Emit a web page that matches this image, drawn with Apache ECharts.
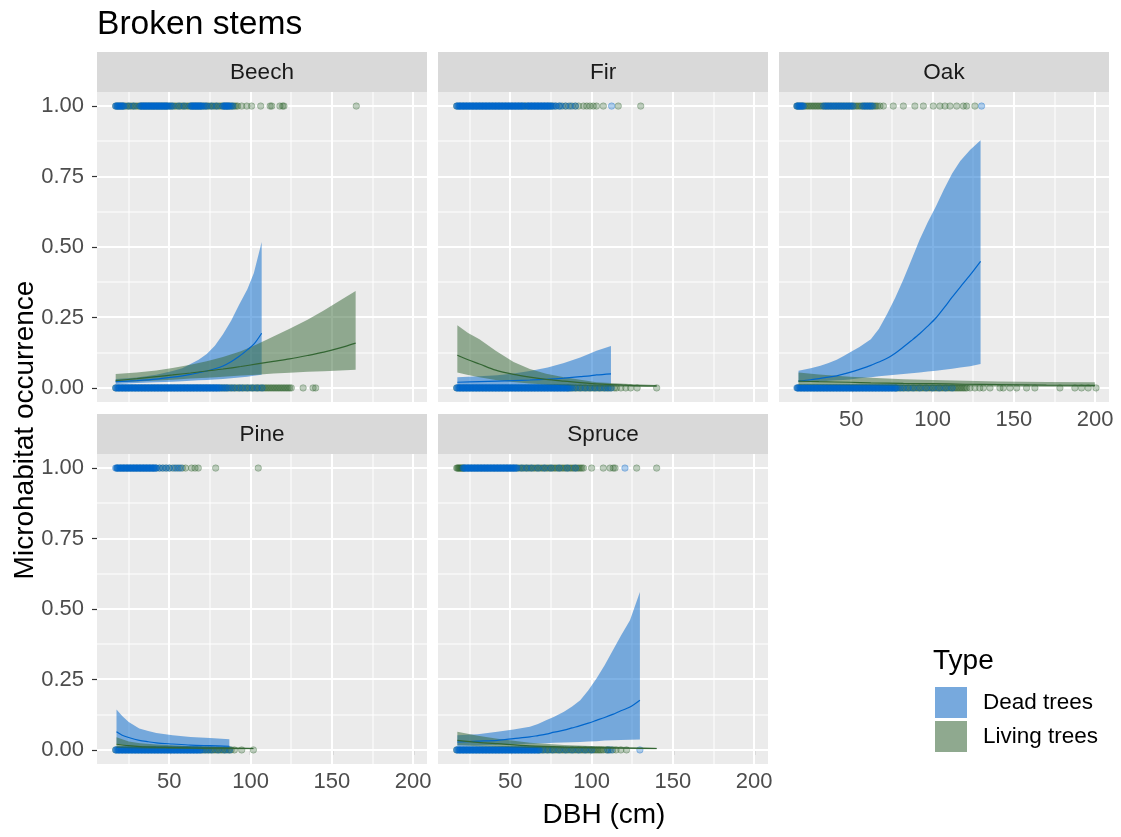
<!DOCTYPE html>
<html><head><meta charset="utf-8">
<script src="https://cdn.jsdelivr.net/npm/echarts@6/dist/echarts.min.js"></script>
<style>html,body{margin:0;padding:0;background:#fff}#c{width:1121px;height:837px}</style>
</head><body><div id="c"></div>
<script>
const FONT = '"Liberation Sans", Arial, sans-serif';
const chartTitle = 'Broken stems';
const xTitle = 'DBH (cm)';
const yTitle = 'Microhabitat occurrence';
const legendTitle = 'Type';
const panelNames = ['Beech', 'Fir', 'Oak', 'Pine', 'Spruce'];
const typeNames = ['Dead trees', 'Living trees'];
const xTicks = [50, 100, 150, 200];
const xMinorTicks = [25, 75, 125, 175];
const yTicks = [0, 0.25, 0.5, 0.75, 1];
const yMinorTicks = [0.125, 0.375, 0.625, 0.875];
const xLimits = [5.5, 208.5];
const yLimits = [-0.05, 1.05];

// ---------- observed points (DBH values), occurrence 1 (Yes) / 0 (No) ----------
const beechDeadYes = [17,17.5,18,18.5,19,19.5,20,20.5,21,21.5,22,25,28,32,32.5,33,33.5,34,34.5,35,35.5,36,36.5,37,37.5,38,38.5,39,39.5,40,40.5,41,41.5,42,42.5,43,43.5,44,44.5,45,45.5,46,46.5,47,47.5,48,48.5,49,50,51,52,56,59,63,63.5,64,64.5,65,65.5,66,66.5,67,67.5,68,68.5,69,69.5,70,71,72,73,76,79,83,83.5,84,84.5,85,85.5,86,86.5,87,88,89];
const beechLiveYes = [17,18,19,20,21,22,23,24,25,26,27,28,29,30,31,32,33,34,35,36,37,38,39,40,41,42,43,44,45,46,47,48,49,50,51,52,53,54,55,56,57,58,59,60,61,62,63,64,65,66,67,68,69,70,71,72,73,74,75,76,77,78,79,80,81,82,83,84,85,86,87,88,89,90,91,92,94.5,97.6,100.6,106.2,112,113,118,119.7,120.5,165];
const beechDeadNo = [17,17.5,18,18.5,19,19.5,20,20.5,21,21.5,22,22.5,23,23.5,24,24.5,25,25.5,26,26.5,27,27.5,28,28.5,29,29.5,30,30.5,31,31.5,32,32.5,33,33.5,34,34.5,35,35.5,36,36.5,37,37.5,38,38.5,39,39.5,40,40.5,41,41.5,42,42.5,43,43.5,44,44.5,45,45.5,46,46.5,47,47.5,48,48.5,49,49.5,50,50.5,51,51.5,52,52.5,53,53.5,54,54.5,55,55.5,56,56.5,57,57.5,58,58.5,59,59.5,60,60.5,61,61.5,62,62.5,63,63.5,64,64.5,65,65.5,66,66.5,67,67.5,68,68.5,69,69.5,70,70.5,71,71.5,72,72.5,73,73.5,74,74.5,75,75.5,76,76.5,77,77.5,78,78.5,79,79.5,80,80.5,81,82,83,84,85,86,88,90,93,95,98,101,104,107];
const beechLiveNo = [17,19,21,23,25,27,29,31,33,35,37,39,41,43,45,47,49,51,53,55,57,59,61,63,65,67,69,71,73,75,77,79,81,82,83,84,85,86,87,88,89,90,91,92,93,94,95,96,97,98,99,100,101,102,103,104,105,106,107,108,109,110,111,112,113,114,115,116,117,118,119,120,121,122,123,124,125,132.3,138.4,140];

const firDeadYes = [17,17.5,18,18.5,19,19.5,20,20.5,21,21.5,22,22.5,23,23.5,24,24.5,25,25.5,26,26.5,27,27.5,28,28.5,29,29.5,30,30.5,31,31.5,32,32.5,33,33.5,34,34.5,35,35.5,36,36.5,37,37.5,38,38.5,39,39.5,40,40.5,41,41.5,42,42.5,43,43.5,44,44.5,45,45.5,46,46.5,47,47.5,48,48.5,49,49.5,50,50.5,51,51.5,52,52.5,53,53.5,54,54.5,55,55.5,56,56.5,57,57.5,58,58.5,60,60.5,61,61.5,62,62.5,63,63.5,64,64.5,65,65.5,66,66.5,67,67.5,68,68.5,69,69.5,70,70.5,71,71.5,72,72.5,73,73.5,74,74.5,75,76,77,78,80,81,84,87,90,112.3];
const firLiveYes = [17,19,21,23,25,27,29,31,33,35,37,39,41,43,45,47,49,51,53,55,57,59,59.2,61,63,65,67,69,71,73,75,76,78,80,82,84,86,88,90,92,95,97,99,101,103,107.2,116.4,130.2];
const firDeadNo = [17,17.5,18,18.5,19,19.5,20,20.5,21,21.5,22,22.5,23,23.5,24,24.5,25,25.5,26,26.5,27,27.5,28,28.5,29,29.5,30,30.5,31,31.5,32,32.5,33,33.5,34,34.5,35,35.5,36,36.5,37,37.5,38,38.5,39,39.5,40,40.5,41,41.5,42,42.5,43,43.5,44,44.5,45,45.5,46,46.5,47,47.5,48,48.5,49,49.5,50,50.5,51,51.5,52,52.5,53,53.5,54,54.5,55,55.5,56,56.5,57,57.5,58,58.5,59,59.5,60,60.5,61,61.5,62,62.5,63,63.5,64,64.5,65,65.5,66,66.5,67,67.5,68,68.5,69,69.5,70,70.5,71,71.5,72,72.5,73,73.5,74,74.5,75,75.5,76,76.5,77,77.5,78,78.5,79,79.5,80,80.5,81,81.5,82,82.5,83,83.5,84,84.5,85,85.5,86,87,88,90,93,96,99,102,105,108,110,112];
const firLiveNo = [17,19,21,23,25,27,29,31,33,35,37,39,41,43,45,47,49,51,53,55,57,59,61,63,65,67,69,71,73,75,77,79,81,83,85,86,87,88,89,90,91,92,93,94,95,96,97,98,99,100,101,102,103,104,105,106,107,108,109,110,111,112,114,115.3,118,121,124,128,140];

const oakDeadYes = [16.5,17,17.5,18,18.5,19,19.5,20,20.5,33,34,35,36,37,38,39,40,41,42,43,44,45,46,47,48,49,50,51,57,58,59,60,61,62,63,130.1];
const oakLiveYes = [16.5,17,18,19,20,21,22,23,24,25,26,27,28,29,30,31,32,33,34,35,36,37,38,39,40,41,42,43,44,45,46,47,48,49,50,51,52,53,54,55,56,57,58,59,60,61,62,63,64,65,66,67.6,69.7,75.8,82,89.1,94.3,100.4,104.5,107.6,110.7,114.8,118.9,120.9,126];
const oakDeadNo = [16.5,17,17.5,18,18.5,19,19.5,20,20.5,21,21.5,22,22.5,23,23.5,24,24.5,25,25.5,26,26.5,27,27.5,28,28.5,29,29.5,30,30.5,31,31.5,32,32.5,33,33.5,34,34.5,35,35.5,36,36.5,37,37.5,38,38.5,39,39.5,40,40.5,41,41.5,42,42.5,43,43.5,44,44.5,45,45.5,46,46.5,47,47.5,48,48.5,49,49.5,50,50.5,51,51.5,52,52.5,53,53.5,54,54.5,55,55.5,56,56.5,57,57.5,58,58.5,59,59.5,60,60.5,61,61.5,62,62.5,63,63.5,64,64.5,65,65.5,66,66.5,67,67.5,68,68.5,69,69.5,70,70.5,71,71.5,72,72.5,73,73.5,74,74.5,75,75.5,76,76.5,77,77.5,78,80,82,85,88,92,96,100,104,108,112];
const oakLiveNo = [17,19,21,23,25,27,29,31,33,35,37,39,41,43,45,47,49,51,53,55,57,59,61,63,65,67,69,71,73,75,77,78,79,80,81,82,83,84,85,86,87,88,89,90,91,92,93,94,95,96,97,98,99,100,101,102,103,104,105,106,107,108,109,110,111,112,113,114,115,116,117,118,119,120,121,123,126,129,131.2,135.3,141.4,143.5,147.6,151.7,157.8,162.9,178.3,187.5,191.6,195.7,200.5];

const pineDeadYes = [17,17.5,18,18.5,19,19.5,20,20.5,21,21.5,22,22.5,23,23.5,24,24.5,25,25.5,26,26.5,27,27.5,28,28.5,29,29.5,30,30.5,31,31.5,32,32.5,33,33.5,34,34.5,35,35.5,36,36.5,37,37.5,38,38.5,39,39.5,40,40.5,41,41.5,42,44,46,48,50,53,55,57];
const pineLiveYes = [18,20,22,24,26,28,30,32,34,36,38,40,42,44,46,48,50,52,54,56,58,60,63.7,65.8,67.8,78.5,104.7];
const pineDeadNo = [17,17.5,18,18.5,19,19.5,20,20.5,21,21.5,22,22.5,23,23.5,24,24.5,25,25.5,26,26.5,27,27.5,28,28.5,29,29.5,30,30.5,31,31.5,32,32.5,33,33.5,34,34.5,35,35.5,36,36.5,37,37.5,38,38.5,39,39.5,40,40.5,41,41.5,42,42.5,43,43.5,44,44.5,45,45.5,46,46.5,47,47.5,48,48.5,49,49.5,50,50.5,51,51.5,52,52.5,53,53.5,54,54.5,55,55.5,56,56.5,57,57.5,58,58.5,59,59.5,60,60.5,61,61.5,62,62.5,63,63.5,64,64.5,65,65.5,66,66.5,67,67.5,68,68.5,69,70,72,74,76,80,84,87];
const pineLiveNo = [17,19,21,23,25,27,29,31,33,35,37,39,41,43,45,47,49,51,53,55,57,59,61,63,65,67,69,70,71,72,73,74,75,76,77,78,79,80,81,82,83,84,85,86,87,88,90,94.5,101.7];

const spruceDeadYes = [21,21.5,22,22.5,23,23.5,24,24.5,25,25.5,26,26.5,27,27.5,28,28.5,29,29.5,30,30.5,31,31.5,32,32.5,33,33.5,34,34.5,35,35.5,36,36.5,37,37.5,38,38.5,39,39.5,40,40.5,41,41.5,42,42.5,43,43.5,44,44.5,45,45.5,46,46.5,47,47.5,48,48.5,49,49.5,50,50.5,51,51.5,52,52.5,53,53.5,54,57,60,63,67,71,75,80,85,90,120.5];
const spruceLiveYes = [17,17.5,18,18.5,19,19.5,20,20.5,21,22,24,26,28,30,32,34,36,38,40,42,44,46,48,50,52,54,55,56,57,58,59,60,61,62,63,64,65,66,67,68,69,70,71,72,73,74,75,76,77,78,79,80,81,82,83,84,85,86,87,88,89,90,91,92,93,94,95,100,107.2,111.3,113.3,114.4,127.7,140];
const spruceDeadNo = [17,17.5,18,18.5,19,19.5,20,20.5,21,21.5,22,22.5,23,23.5,24,24.5,25,25.5,26,26.5,27,27.5,28,28.5,29,29.5,30,30.5,31,31.5,32,32.5,33,33.5,34,34.5,35,35.5,36,36.5,37,37.5,38,38.5,39,39.5,40,40.5,41,41.5,42,42.5,43,43.5,44,44.5,45,45.5,46,46.5,47,47.5,48,48.5,49,49.5,50,50.5,51,51.5,52,52.5,53,53.5,54,54.5,55,55.5,56,56.5,57,57.5,58,58.5,59,59.5,60,60.5,61,61.5,62,62.5,63,63.5,64,64.5,65,65.5,66,66.5,67,67.5,68,70,73,76,80,84,88,92,96,100,110,112,129.7];
const spruceLiveNo = [17,19,21,23,25,27,29,31,33,35,37,39,41,43,45,47,49,51,53,55,57,59,61,63,65,67,68,69,70,71,72,73,74,75,76,77,78,79,80,81,82,83,84,85,86,87,88,89,90,91,92,93,94,95,96,97,98,99,100,101,102,103,104,105,106,107.2,109,110,111,113,115,118,121.5];

// ---------- fitted curves with confidence bands ----------
const beechDeadDbh  = [17, 30, 42, 52, 58, 63, 68, 73, 78, 83, 88, 93, 98, 102, 106.8];
const beechDeadFit  = [0.022, 0.026, 0.031, 0.038, 0.043, 0.048, 0.054, 0.06, 0.068, 0.078, 0.093, 0.112, 0.135, 0.155, 0.194];
const beechDeadLow  = [0.014, 0.017, 0.02, 0.022, 0.024, 0.025, 0.027, 0.028, 0.03, 0.032, 0.034, 0.037, 0.04, 0.043, 0.047];
const beechDeadHigh = [0.032, 0.037, 0.047, 0.06, 0.07, 0.085, 0.1, 0.12, 0.15, 0.19, 0.238, 0.296, 0.35, 0.408, 0.518];
const beechLiveDbh  = [17, 30, 42, 52, 63, 73, 83, 94, 104, 114, 124, 135, 145, 155, 164.6];
const beechLiveFit  = [0.026, 0.033, 0.04, 0.046, 0.053, 0.06, 0.067, 0.076, 0.085, 0.094, 0.103, 0.115, 0.127, 0.142, 0.159];
const beechLiveLow  = [0.02, 0.023, 0.026, 0.029, 0.033, 0.036, 0.04, 0.044, 0.047, 0.051, 0.054, 0.057, 0.059, 0.062, 0.064];
const beechLiveHigh = [0.049, 0.055, 0.062, 0.071, 0.082, 0.095, 0.11, 0.13, 0.155, 0.182, 0.21, 0.242, 0.275, 0.31, 0.344];

const firDeadDbh  = [17.4, 31, 42, 52, 62, 73, 83, 93, 99, 103, 111.9];
const firDeadFit  = [0.02, 0.022, 0.024, 0.026, 0.028, 0.031, 0.035, 0.04, 0.043, 0.046, 0.05];
const firDeadLow  = [0.008, 0.008, 0.009, 0.009, 0.01, 0.01, 0.011, 0.011, 0.012, 0.012, 0.013];
const firDeadHigh = [0.038, 0.041, 0.045, 0.051, 0.06, 0.072, 0.088, 0.108, 0.122, 0.132, 0.149];
const firLiveDbh  = [17.4, 24, 31, 41, 52, 62, 72, 83, 103, 123, 140];
const firLiveFit  = [0.116, 0.1, 0.085, 0.063, 0.048, 0.038, 0.03, 0.024, 0.014, 0.009, 0.007];
const firLiveLow  = [0.055, 0.046, 0.038, 0.028, 0.021, 0.016, 0.012, 0.009, 0.005, 0.004, 0.003];
const firLiveHigh = [0.222, 0.195, 0.173, 0.132, 0.092, 0.067, 0.05, 0.038, 0.02, 0.014, 0.01];

const oakDeadDbh  = [17.5, 25, 31, 36, 41, 45, 49, 55, 62, 67, 72, 77, 82, 87, 92, 97, 102, 107, 112, 117, 123, 129.5];
const oakDeadFit  = [0.024, 0.029, 0.034, 0.038, 0.043, 0.049, 0.055, 0.066, 0.08, 0.092, 0.105, 0.123, 0.145, 0.168, 0.192, 0.219, 0.248, 0.284, 0.322, 0.358, 0.4, 0.449];
const oakDeadLow  = [0.02, 0.021, 0.023, 0.025, 0.027, 0.028, 0.03, 0.034, 0.038, 0.041, 0.044, 0.047, 0.049, 0.052, 0.055, 0.058, 0.061, 0.064, 0.068, 0.072, 0.077, 0.085];
const oakDeadHigh = [0.061, 0.07, 0.079, 0.088, 0.1, 0.112, 0.126, 0.145, 0.173, 0.21, 0.262, 0.32, 0.385, 0.455, 0.526, 0.588, 0.644, 0.705, 0.761, 0.805, 0.844, 0.879];
const oakLiveDbh  = [17.5, 30, 49, 62, 82, 100, 120, 140, 170, 199.8];
const oakLiveFit  = [0.024, 0.022, 0.02, 0.018, 0.016, 0.015, 0.013, 0.012, 0.01, 0.009];
const oakLiveLow  = [0.01, 0.01, 0.009, 0.009, 0.008, 0.007, 0.006, 0.005, 0.004, 0.003];
const oakLiveHigh = [0.055, 0.048, 0.04, 0.036, 0.031, 0.028, 0.025, 0.023, 0.021, 0.02];

const pineDeadDbh  = [17.5, 21, 25, 31.5, 37, 42, 52, 63, 75, 86.9];
const pineDeadFit  = [0.064, 0.052, 0.044, 0.034, 0.029, 0.025, 0.021, 0.017, 0.015, 0.013];
const pineDeadLow  = [0.022, 0.018, 0.015, 0.012, 0.01, 0.009, 0.007, 0.006, 0.005, 0.004];
const pineDeadHigh = [0.143, 0.12, 0.099, 0.076, 0.067, 0.06, 0.052, 0.046, 0.042, 0.038];
const pineLiveDbh  = [17.5, 25, 32, 42, 63, 80, 101.7];
const pineLiveFit  = [0.02, 0.015, 0.012, 0.01, 0.007, 0.006, 0.005];
const pineLiveLow  = [0.008, 0.006, 0.005, 0.004, 0.003, 0.002, 0.002];
const pineLiveHigh = [0.045, 0.03, 0.024, 0.019, 0.013, 0.01, 0.008];

const spruceDeadDbh  = [17.4, 30, 42, 52, 62, 67, 72, 77, 83, 88, 93, 98, 103, 108, 113, 118, 123.6, 129.7];
const spruceDeadFit  = [0.028, 0.031, 0.034, 0.04, 0.046, 0.051, 0.056, 0.063, 0.07, 0.078, 0.086, 0.095, 0.105, 0.115, 0.126, 0.139, 0.152, 0.176];
const spruceDeadLow  = [0.014, 0.016, 0.018, 0.02, 0.022, 0.023, 0.024, 0.025, 0.026, 0.027, 0.028, 0.03, 0.031, 0.033, 0.034, 0.035, 0.036, 0.037];
const spruceDeadHigh = [0.052, 0.056, 0.064, 0.072, 0.082, 0.092, 0.105, 0.118, 0.135, 0.154, 0.176, 0.212, 0.253, 0.3, 0.353, 0.405, 0.46, 0.56];
const spruceLiveDbh  = [17.4, 30, 42, 62, 83, 103, 123, 140];
const spruceLiveFit  = [0.034, 0.027, 0.022, 0.014, 0.01, 0.008, 0.006, 0.005];
const spruceLiveLow  = [0.017, 0.013, 0.011, 0.007, 0.005, 0.004, 0.003, 0.002];
const spruceLiveHigh = [0.064, 0.05, 0.04, 0.025, 0.017, 0.013, 0.01, 0.008];

// ---------- assemble ----------
const panelData = [
  {dead:{yes:beechDeadYes,no:beechDeadNo,dbh:beechDeadDbh,fit:beechDeadFit,lo:beechDeadLow,hi:beechDeadHigh},
   live:{yes:beechLiveYes,no:beechLiveNo,dbh:beechLiveDbh,fit:beechLiveFit,lo:beechLiveLow,hi:beechLiveHigh}},
  {dead:{yes:firDeadYes,no:firDeadNo,dbh:firDeadDbh,fit:firDeadFit,lo:firDeadLow,hi:firDeadHigh},
   live:{yes:firLiveYes,no:firLiveNo,dbh:firLiveDbh,fit:firLiveFit,lo:firLiveLow,hi:firLiveHigh}},
  {dead:{yes:oakDeadYes,no:oakDeadNo,dbh:oakDeadDbh,fit:oakDeadFit,lo:oakDeadLow,hi:oakDeadHigh},
   live:{yes:oakLiveYes,no:oakLiveNo,dbh:oakLiveDbh,fit:oakLiveFit,lo:oakLiveLow,hi:oakLiveHigh}},
  {dead:{yes:pineDeadYes,no:pineDeadNo,dbh:pineDeadDbh,fit:pineDeadFit,lo:pineDeadLow,hi:pineDeadHigh},
   live:{yes:pineLiveYes,no:pineLiveNo,dbh:pineLiveDbh,fit:pineLiveFit,lo:pineLiveLow,hi:pineLiveHigh}},
  {dead:{yes:spruceDeadYes,no:spruceDeadNo,dbh:spruceDeadDbh,fit:spruceDeadFit,lo:spruceDeadLow,hi:spruceDeadHigh},
   live:{yes:spruceLiveYes,no:spruceLiveNo,dbh:spruceLiveDbh,fit:spruceLiveFit,lo:spruceLiveLow,hi:spruceLiveHigh}}
];

const COL = {
  dead: {line:'#0066CC', band:'rgba(0,102,204,0.5)', pt:'rgba(0,102,204,0.3)', key:'#77A9DD'},
  live: {line:'#336633', band:'rgba(51,102,51,0.5)', pt:'rgba(51,102,51,0.3)', key:'#8FA98F'}
};

// layout (pixels)
const PW = 330, PH = 310, STRIP = 40;
const boxes = [[97,92],[438,92],[779,92],[97,454],[438,454]];
const showX = [false,false,true,true,true];
const showY = [true,false,false,true,false];

const grids = [], xAxes = [], yAxes = [], series = [], graphics = [];

function gridLineSeries(i){
  const data = [];
  xTicks.forEach(v=>data.push([v,0.5,1,1]));
  xMinorTicks.forEach(v=>data.push([v,0.5,1,0]));
  yTicks.forEach(v=>data.push([100,v,0,1]));
  yMinorTicks.forEach(v=>data.push([100,v,0,0]));
  return {
    type:'custom', xAxisIndex:i, yAxisIndex:i, z:1, silent:true, data, encode:{x:0,y:1},
    renderItem(params, api){
      const cs = params.coordSys;
      const vert = api.value(2) === 1, major = api.value(3) === 1;
      let shape;
      if (vert){ const px = Math.round(api.coord([api.value(0), 0.5])[0]); shape = {x1:px, y1:cs.y, x2:px, y2:cs.y+cs.height}; }
      else { const py = Math.round(api.coord([100, api.value(1)])[1]); shape = {x1:cs.x, y1:py, x2:cs.x+cs.width, y2:py}; }
      return {type:'line', shape, style:{stroke:'#FFFFFF', lineWidth: major ? 2 : 1}};
    }
  };
}
function bandSeries(i, name, d, color){
  const data = d.dbh.map((x,k)=>[x, d.lo[k], d.hi[k]]);
  return {
    type:'custom', name, xAxisIndex:i, yAxisIndex:i, z:3, silent:true, data, encode:{x:0, y:[1,2]},
    renderItem(params, api){
      if (params.dataIndex !== 0) return null;
      const pts = [];
      for (let k=0;k<data.length;k++) pts.push(api.coord([data[k][0], data[k][2]]));
      for (let k=data.length-1;k>=0;k--) pts.push(api.coord([data[k][0], data[k][1]]));
      return {type:'polygon', shape:{points:pts}, style:{fill:color}};
    }
  };
}
function pointSeries(i, name, d, color){
  const data = d.yes.map(x=>[x,1]).concat(d.no.map(x=>[x,0]));
  return {type:'scatter', name, xAxisIndex:i, yAxisIndex:i, z:2, silent:true, symbolSize:6.5,
    itemStyle:{color, borderColor:color, borderWidth:1, opacity:1}, data};
}
function lineSeries(i, name, d, color){
  return {type:'line', name, xAxisIndex:i, yAxisIndex:i, z:4, silent:true, showSymbol:false, smooth:0.3,
    lineStyle:{color, width:1.2}, itemStyle:{color}, data:d.dbh.map((x,k)=>[x, d.fit[k]])};
}

panelNames.forEach((p,i)=>{
  const [L,T] = boxes[i];
  grids.push({left:L, top:T, width:PW, height:PH, show:true, backgroundColor:'#EBEBEB', borderWidth:0});
  xAxes.push({gridIndex:i, type:'value', min:xLimits[0], max:xLimits[1],
    axisLine:{show:false}, splitLine:{show:false},
    axisTick:{show:showX[i], customValues:xTicks, length:5, lineStyle:{color:'#333333', width:1.2}},
    axisLabel:{show:showX[i], customValues:xTicks, margin:7, fontSize:22, color:'#4D4D4D', fontFamily:FONT}});
  yAxes.push({gridIndex:i, type:'value', min:yLimits[0], max:yLimits[1],
    axisLine:{show:false}, splitLine:{show:false},
    axisTick:{show:showY[i], customValues:yTicks, length:5, lineStyle:{color:'#333333', width:1.2}},
    axisLabel:{show:showY[i], customValues:yTicks, margin:13, fontSize:22, color:'#4D4D4D', fontFamily:FONT,
      formatter:v=>Number(v).toFixed(2)}});
  const pd = panelData[i];
  series.push(gridLineSeries(i));
  series.push(pointSeries(i, typeNames[1], pd.live, COL.live.pt));
  series.push(pointSeries(i, typeNames[0], pd.dead, COL.dead.pt));
  series.push(bandSeries(i, typeNames[0], pd.dead, COL.dead.band));
  series.push(bandSeries(i, typeNames[1], pd.live, COL.live.band));
  series.push(lineSeries(i, typeNames[0], pd.dead, COL.dead.line));
  series.push(lineSeries(i, typeNames[1], pd.live, COL.live.line));
  graphics.push({type:'rect', shape:{x:L, y:T-STRIP, width:PW, height:STRIP}, style:{fill:'#D9D9D9'}, silent:true});
  graphics.push({type:'text', x:L+PW/2, y:T-STRIP/2+1, silent:true,
    style:{text:p, fontSize:22.5, fontFamily:FONT, fill:'#1A1A1A', align:'center', verticalAlign:'middle', textAlign:'center', textVerticalAlign:'middle'}});
});

graphics.push({type:'text', x:97, y:25, silent:true,
  style:{text:chartTitle, fontSize:33.6, fontFamily:FONT, fill:'#000', align:'left', verticalAlign:'middle', textAlign:'left', textVerticalAlign:'middle'}});
graphics.push({type:'text', x:604, y:815, silent:true,
  style:{text:xTitle, fontSize:28, fontFamily:FONT, fill:'#000', align:'center', verticalAlign:'middle', textAlign:'center', textVerticalAlign:'middle'}});
graphics.push({type:'text', x:25, y:430, rotation:Math.PI/2, silent:true,
  style:{text:yTitle, fontSize:28, fontFamily:FONT, fill:'#000', align:'center', verticalAlign:'middle', textAlign:'center', textVerticalAlign:'middle'}});
graphics.push({type:'text', x:933, y:661, silent:true,
  style:{text:legendTitle, fontSize:28, fontFamily:FONT, fill:'#000', align:'left', verticalAlign:'middle', textAlign:'left', textVerticalAlign:'middle'}});

const chart = echarts.init(document.getElementById('c'), null, {renderer:'canvas'});
chart.setOption({
  animation:false,
  backgroundColor:'#FFFFFF',
  grid:grids, xAxis:xAxes, yAxis:yAxes, series,
  legend:{left:935, top:687, orient:'vertical', padding:0, itemWidth:32, itemHeight:31, itemGap:3,
    selectedMode:false, icon:'rect',
    textStyle:{fontSize:22.5, color:'#000', fontFamily:FONT, padding:[0,0,0,11]},
    data:[{name:typeNames[0], icon:'rect', itemStyle:{color:COL.dead.key, borderWidth:0, opacity:1}},
          {name:typeNames[1], icon:'rect', itemStyle:{color:COL.live.key, borderWidth:0, opacity:1}}]},
  graphic:{elements:graphics}
});
</script>
</body></html>
